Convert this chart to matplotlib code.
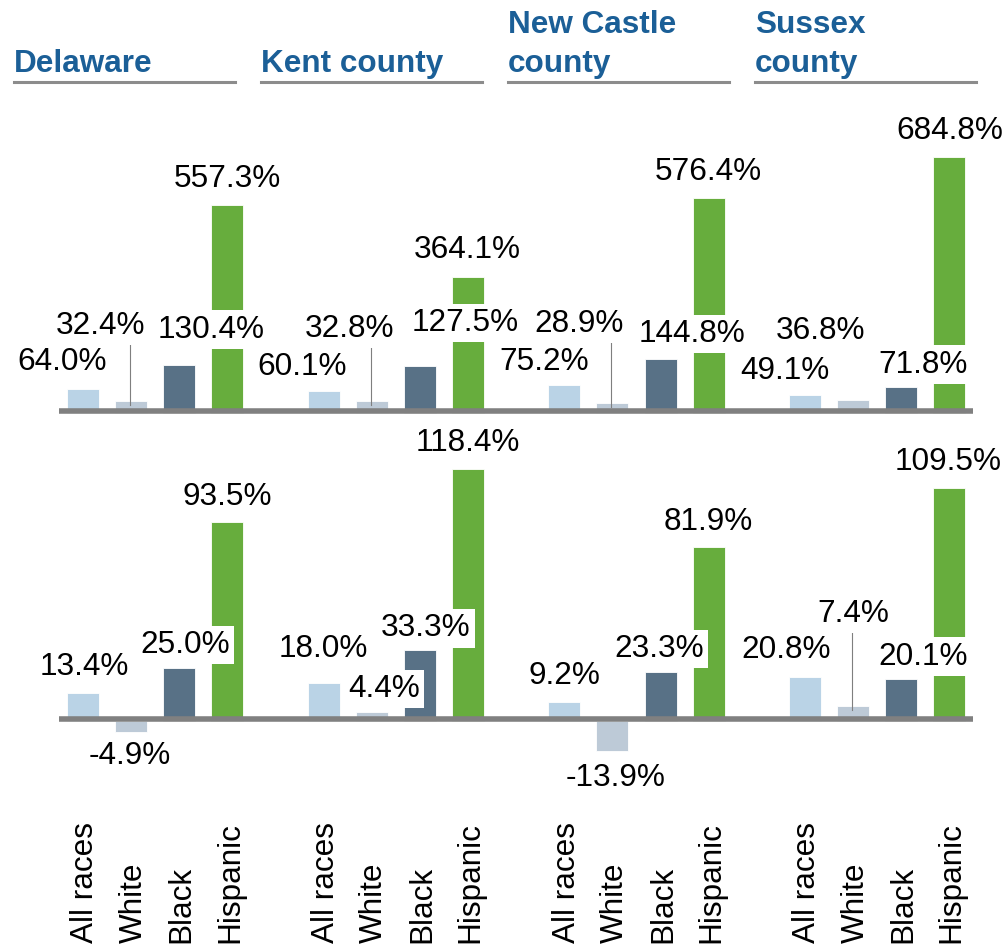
import matplotlib
matplotlib.use('Agg')
import matplotlib.pyplot as plt
import matplotlib.transforms as mtransforms
from matplotlib.lines import Line2D

plt.rcParams['font.family'] = ['Liberation Sans', 'DejaVu Sans']

areas = ['Delaware', 'Kent county', 'New Castle\ncounty', 'Sussex\ncounty']
races = ['All races', 'White', 'Black', 'Hispanic']

# percent change, upper panel
upper_delaware = [64.0, 32.4, 130.4, 557.3]
upper_kent = [60.1, 32.8, 127.5, 364.1]
upper_new_castle = [75.2, 28.9, 144.8, 576.4]
upper_sussex = [49.1, 36.8, 71.8, 684.8]

# percent change, lower panel
lower_delaware = [13.4, -4.9, 25.0, 93.5]
lower_kent = [18.0, 4.4, 33.3, 118.4]
lower_new_castle = [9.2, -13.9, 23.3, 81.9]
lower_sussex = [20.8, 7.4, 20.1, 109.5]

upper = [upper_delaware, upper_kent, upper_new_castle, upper_sussex]
lower = [lower_delaware, lower_kent, lower_new_castle, lower_sussex]

colors = ['#bad3e6', '#bdcad7', '#587186', '#67ad3d']
title_blue = '#1b5f97'
rule_gray = '#808080'

W, H = 1008, 949
FS = 22.7

# label offsets in pixels (dx from bar centre, baseline distance from bar end)
upper_dx = [[-21, -31, 32, 0], [-22, -22, 45, -1], [-20, -33, 31, 0], [-20, -33, 22, 0]]
upper_dy = [[19, 67, 27, 18], [16, 64, 35, 19], [15, 71, 17, 18], [16, 61, 14, 18]]
upper_leader = [[0, 1, 0, 0], [0, 1, 0, 0], [0, 1, 0, 0], [0, 0, 0, 0]]
lower_dx = [[1, -1, 6, 0], [0, 12, 6, 0], [0, 3, -1, 0], [-19, 0, 22, -1]]
lower_dy = [[18, -32, 15, 17], [26, 15, 14, 18], [18, -35, 15, 17], [19, 84, 14, 18]]
lower_leader = [[0, 0, 0, 0], [0, 0, 0, 0], [0, 0, 0, 0], [0, 1, 0, 0]]


def fx(px):
    return px / W


def fy(py):
    return 1 - py / H


fig = plt.figure(figsize=(W / 100, H / 100), dpi=100)
ax_up = fig.add_axes([0, fy(440), 1, (440 - 100) / H])
ax_lo = fig.add_axes([0, fy(800), 1, (800 - 440) / H])
ax_up.set_ylim(-71.0, 837.1)
ax_lo.set_ylim(-36.77, 131.85)


def draw_panel(ax, data, dxs, dys, leaders):
    ax.set_xlim(-1.7245, 19.219)
    ax.axis('off')
    lo, hi = ax.get_ylim()
    per_px = (hi - lo) / ax.bbox.height
    for g, vals in enumerate(data):
        xs = [5 * g + i for i in range(4)]
        ax.bar(xs, vals, width=0.665, color=colors, edgecolor='white',
               linewidth=0.6, zorder=2)
        for i, v in enumerate(vals):
            dx, dy = dxs[g][i], dys[g][i]
            ax.annotate(f'{v:.1f}%', xy=(xs[i], v), xytext=(dx, dy),
                        textcoords='offset pixels', ha='center', va='baseline',
                        fontsize=FS, color='black', zorder=5,
                        annotation_clip=False,
                        bbox=dict(boxstyle='square,pad=0.13', fc='white', ec='none'))
            if leaders[g][i]:
                ax.plot([xs[i] - 0.02] * 2, [v - 4 * per_px, v + (dy - 9) * per_px],
                        color='#7f7f7f', lw=0.8, zorder=4)
    shift = mtransforms.offset_copy(ax.transData, fig=fig, y=2.2, units='dots')
    ax.plot([-0.5, 18.5], [0, 0], color=rule_gray, lw=4, solid_capstyle='butt',
            transform=shift, zorder=3)


draw_panel(ax_up, upper, upper_dx, upper_dy, upper_leader)
draw_panel(ax_lo, lower, lower_dx, lower_dy, lower_leader)

# race names under the lower panel
for g in range(len(areas)):
    for i, race in enumerate(races):
        ax_lo.annotate(race, xy=(5 * g + i, 6), xycoords=('data', 'figure pixels'),
                       xytext=(10.5, 0), textcoords='offset pixels', rotation=90,
                       rotation_mode='anchor', ha='left', va='baseline',
                       fontsize=FS, color='black', annotation_clip=False)

# area headings with rules
title_x = [14, 261, 508, 755]
for g, name in enumerate(areas):
    lines = name.split('\n')
    for k, line in enumerate(reversed(lines)):
        fig.text(fx(title_x[g]), fy(72 - 39 * k), line, ha='left', va='baseline',
                 fontsize=FS, fontweight='bold', color=title_blue)
    fig.add_artist(Line2D([fx(title_x[g]), fx(title_x[g] + 221)], [fy(82), fy(82)],
                          color='#8c8c8c', lw=2.2, transform=fig.transFigure))

fig.savefig('out.png', dpi=100)
